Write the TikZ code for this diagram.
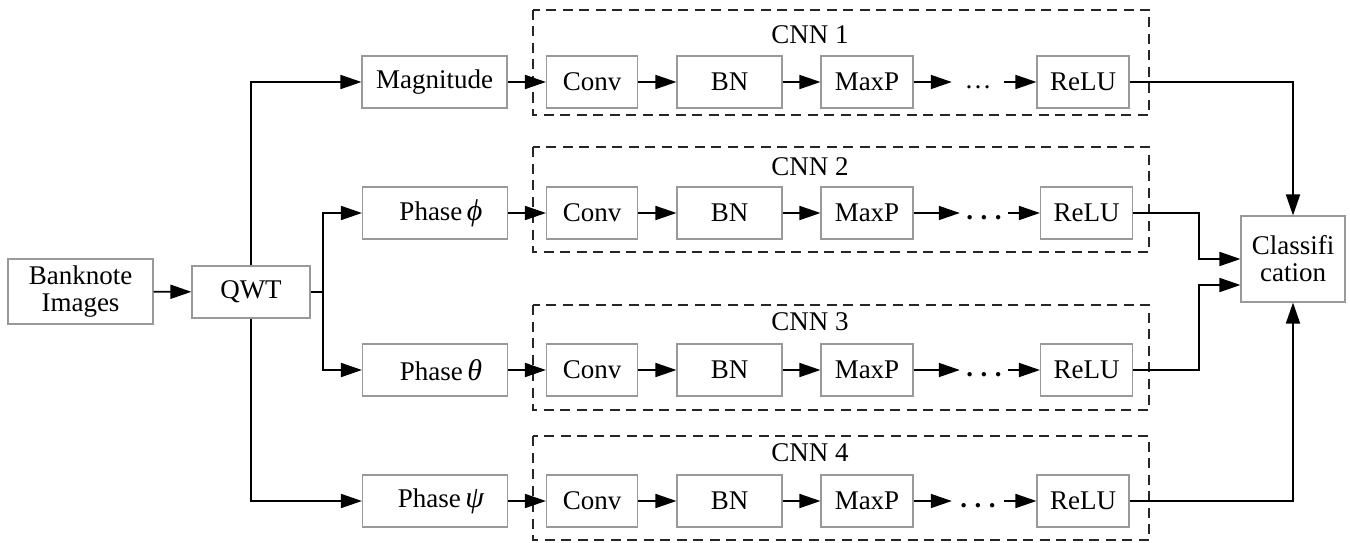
\documentclass[tikz,border=0pt]{standalone}
\usepackage{fontspec}
\setmainfont{Liberation Serif}
\usetikzlibrary{arrows.meta}
\newcommand{\gk}[1]{{\fontsize{30}{27}\selectfont\itshape #1}}
\begin{document}
\begin{tikzpicture}[x=1pt,y=-1pt,
  font=\fontsize{27}{27}\selectfont,
  blk/.style={draw=black!40, line width=1.1pt, inner sep=0pt, minimum height=52pt, align=center},
  conn/.style={line width=1.7pt, -{Triangle[length=21pt,width=14pt]}},
  wire/.style={line width=1.7pt},
  frame/.style={line width=1.7pt, dash pattern=on 10pt off 6.5pt, draw=black!85},
  gap/.style={inner sep=0pt, text height=19pt, text depth=6pt, minimum height=52pt},
  title/.style={inner sep=0pt},
]
\useasboundingbox (0,0) rectangle (1350,543);

% dashed CNN frames
\draw[frame] (533,10) rectangle (1149,115);
\draw[frame] (533,147) rectangle (1149,252);
\draw[frame] (533,305) rectangle (1149,410);
\draw[frame] (533,436) rectangle (1149,540);
\node[title] (t1) at (810,35) {CNN 1};
\node[title] (t2) at (810,167) {CNN 2};
\node[title] (t3) at (810,322) {CNN 3};
\node[title] (t4) at (810,453) {CNN 4};

% input stage
\node[blk, minimum width=145pt, minimum height=65pt] (bank) at (80.5,291.5) {Banknote\\Images};
\node[blk, minimum width=118pt] (qwt) at (251,292) {QWT};

% feature branches
\node[blk, minimum width=145pt] (mag) at (434.5,82) {Magnitude};
\node[blk, minimum width=145pt] (ph1) at (435,213) {\hspace*{12pt}Phase\,\gk{ϕ}};
\node[blk, minimum width=145pt] (ph2) at (435,370) {\hspace*{12pt}Phase\,\gk{θ}};
\node[blk, minimum width=145pt] (ph3) at (435,501) {\hspace*{12pt}Phase\,\gk{ψ}};

% CNN layers, one row per branch
\foreach \r/\y/\dx/\dw/\rx/\dt in {1/82/978/52/1083/{\ldots},
                                   2/213/984/48/1086.5/{\textbf{.\kern7.5pt.\kern7.5pt.}},
                                   3/370/984/48/1086.5/{\textbf{.\kern7.5pt.\kern7.5pt.}},
                                   4/501/978/52/1083/{\textbf{.\kern7.5pt.\kern7.5pt.}}}{
  \node[blk, minimum width=91pt]  (conv\r) at (592,\y) {Conv};
  \node[blk, minimum width=105pt] (bn\r)   at (729.5,\y) {BN};
  \node[blk, minimum width=92pt]  (maxp\r) at (867,\y) {MaxP};
  \node[gap, minimum width=\dw pt] (dots\r) at (\dx,\y) {\dt};
  \node[blk, minimum width=92pt]  (relu\r) at (\rx,\y) {ReLU};
  \draw[conn] (conv\r) -- (bn\r);
  \draw[conn] (bn\r) -- (maxp\r);
  \draw[conn] (maxp\r) -- (dots\r);
  \draw[conn] (dots\r) -- (relu\r);
}

% classifier
\node[blk, minimum width=104pt, minimum height=86pt] (cls) at (1293,259) {Classifi\\cation};

% input connections
\draw[conn] (bank) -- (qwt);
\coordinate (split) at (323,292);
\draw[wire] (qwt.east) -- (split);
\draw[conn] (qwt.north) |- (mag.west);
\draw[conn] (split) |- (ph1.west);
\draw[conn] (split) |- (ph2.west);
\draw[conn] (qwt.south) |- (ph3.west);

\draw[conn] (mag) -- (conv1);
\draw[conn] (ph1) -- (conv2);
\draw[conn] (ph2) -- (conv3);
\draw[conn] (ph3) -- (conv4);

% outputs to the classifier
\coordinate (m2) at (1199,213);
\coordinate (m3) at (1199,370);
\draw[conn] (relu1.east) -| (cls.north);
\draw[conn] (relu4.east) -| (cls.south);
\draw[conn] (relu2.east) -- (m2) |- (cls.west);
\draw[conn] (relu3.east) -- (m3) |- ([yshift=-26pt]cls.west);
\end{tikzpicture}
\end{document}
